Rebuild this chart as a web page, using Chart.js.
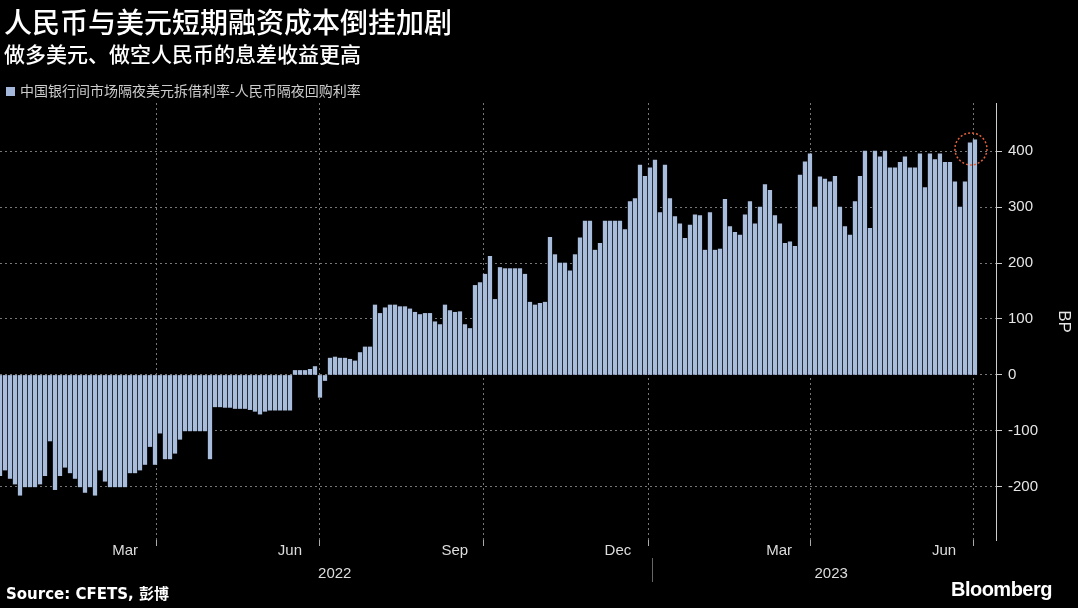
<!DOCTYPE html>
<html lang="zh-CN">
<head>
  <meta charset="UTF-8" />
  <script src="https://cdn.jsdelivr.net/npm/chart.js@4/dist/chart.umd.min.js"></script>
  <title>人民币与美元短期融资成本倒挂加剧</title>
  <style>
    body { margin: 0; background: #000; font-family: "Noto Sans CJK SC", "Noto Sans", sans-serif; }
    .wrap { position: relative; width: 1078px; height: 608px; overflow: hidden; }
    canvas { position: absolute; left: 0; top: 0; }
    .t { position: absolute; color: #fff; white-space: nowrap; }
    #title { left: 4px; top: 1px; font-size: 28px; font-weight: 500; }
    #sub { left: 4px; top: 38px; font-size: 21px; font-weight: 500; }
    #legend { left: 6px; top: 80px; font-size: 14px; color: #ccc; }
    #legend i { display: inline-block; width: 9px; height: 9px; background: #a3b8da; margin-right: 5px; }
    #src { left: 6px; top: 582px; font-size: 15px; font-weight: bold; font-family: "DejaVu Sans", "Noto Sans CJK SC"; }
    #bbg { right: 26px; top: 578px; font-size: 20px; font-weight: bold; font-family: "Liberation Sans", sans-serif; letter-spacing: -0.5px; }
  </style>
</head>
<body>
<div class="wrap">
  <canvas id="grafico" width="1078" height="608"></canvas>
  <div class="t" id="title">人民币与美元短期融资成本倒挂加剧</div>
  <div class="t" id="sub">做多美元、做空人民币的息差收益更高</div>
  <div class="t" id="legend"><i></i>中国银行间市场隔夜美元拆借利率-人民币隔夜回购利率</div>
  <div class="t" id="src">Source: CFETS, 彭博</div>
  <div class="t" id="bbg">Bloomberg</div>
</div>
<script>
  // spread in BP, one sample roughly every 2.8 days from early Jan 2022
  const startDay = 3.2;   // days from 2022-01-01
  const stepDays = 2.79;
  const spread = [
    -180, -170, -185, -195, -215, -200, -200, -200, -195, -180, -118, -205, -180, -165, -175, -185,
    -200, -210, -200, -215, -170, -190, -200, -200, -200, -200, -175, -175, -170, -160, -128, -160,
    -104, -150, -150, -140, -115, -100, -100, -100, -100, -100, -150, -57, -57, -58, -58, -60,
    -60, -60, -62, -65, -70, -65, -63, -63, -63, -63, -63,
    8, 8, 8, 10, 15, -40, -10, 30, 32, 30, 30, 28, 25, 40, 50, 50,
    125, 110, 120, 125, 125, 122, 122, 118, 112, 108, 110, 110, 95, 90, 125, 115,
    112, 113, 90, 83, 160, 165, 180, 212, 135, 192, 190, 190, 190, 190, 180, 130,
    125, 128, 130, 246, 215, 200, 200, 186, 215, 245, 275, 275, 223, 235, 275, 275,
    275, 275, 260, 310, 315, 375, 355, 370, 384, 290, 375, 315, 283, 270, 244, 268,
    286, 285, 223, 290, 223, 225, 314, 265, 255, 250, 286, 310, 270, 300, 340, 330,
    285, 270, 235, 238, 230, 357, 381, 395, 300, 354, 350, 345, 355, 300, 265, 250,
    310, 355, 400, 262, 400, 390, 400, 370, 370, 380, 390, 370, 370, 395, 335, 395,
    385, 395, 380, 380, 345, 300, 345, 415, 420
  ];
  const monthTicks = [73, 165, 257, 348, 438, 530];      // mid-month label positions
  const monthLabels = ["Mar", "Jun", "Sep", "Dec", "Mar", "Jun"];
  const quarterLines = [90, 181, 273, 365, 455, 546];     // quarter starts
  const yearLabels = [{ day: 190, text: "2022" }, { day: 467, text: "2023" }];
  const yearSplit = 367;
  const yTicks = [-200, -100, 0, 100, 200, 300, 400];

  const points = spread.map((v, i) => ({ x: startDay + i * stepDays, y: v }));

  const extras = {
    id: "extras",
    beforeDatasetsDraw(chart) {
      const { ctx, scales: { x }, chartArea } = chart;
      ctx.save();
      ctx.strokeStyle = "#777";
      ctx.setLineDash([2, 3]);
      quarterLines.forEach(d => {
        const px = Math.round(x.getPixelForValue(d)) + 0.5;
        ctx.beginPath();
        ctx.moveTo(px, chartArea.top);
        ctx.lineTo(px, chartArea.bottom);
        ctx.stroke();
      });
      ctx.setLineDash([]);
      ctx.strokeStyle = "#aaa";
      quarterLines.forEach(d => {
        const px = Math.round(x.getPixelForValue(d)) + 0.5;
        ctx.beginPath();
        ctx.moveTo(px, chartArea.bottom);
        ctx.lineTo(px, chartArea.bottom + 6);
        ctx.stroke();
      });
      ctx.restore();
    },
    afterDraw(chart) {
      const { ctx, scales: { x, y }, chartArea } = chart;
      ctx.save();
      ctx.fillStyle = "#ddd";
      ctx.font = "15px 'Liberation Sans', sans-serif";
      ctx.textAlign = "center";
      yearLabels.forEach(l => ctx.fillText(l.text, x.getPixelForValue(l.day), chartArea.bottom + 38));
      ctx.strokeStyle = "#666";
      ctx.beginPath();
      const sx = Math.round(x.getPixelForValue(yearSplit)) + 0.5;
      ctx.moveTo(sx, chartArea.bottom + 18);
      ctx.lineTo(sx, chartArea.bottom + 42);
      ctx.stroke();
      // circle around latest value
      const last = points[points.length - 1];
      ctx.strokeStyle = "#e0603a";
      ctx.setLineDash([2, 2]);
      ctx.lineWidth = 1.5;
      ctx.beginPath();
      ctx.arc(x.getPixelForValue(last.x) - 4, y.getPixelForValue(last.y) + 9, 16, 0, Math.PI * 2);
      ctx.stroke();
      ctx.restore();
    }
  };

  new Chart(document.getElementById("grafico"), {
    type: "bar",
    data: {
      datasets: [{
        data: points,
        backgroundColor: "#a8bcdc",
        barThickness: 3.6
      }]
    },
    plugins: [extras],
    options: {
      responsive: false,
      animation: false,
      layout: { padding: { top: 103 } },
      plugins: { legend: { display: false }, tooltip: { enabled: false } },
      scales: {
        x: {
          type: "linear",
          min: startDay,
          max: 559,
          offset: false,
          afterBuildTicks: s => { s.ticks = monthTicks.map(v => ({ value: v })); },
          afterFit: s => { s.height = 68; },
          ticks: {
            color: "#ddd",
            font: { size: 15, family: "Liberation Sans" },
            padding: -6,
            callback: (v, i) => monthLabels[i]
          },
          grid: { display: false },
          border: { display: false }
        },
        y: {
          position: "right",
          min: -295,
          max: 486,
          afterBuildTicks: s => { s.ticks = yTicks.map(v => ({ value: v })); },
          afterFit: s => { s.width = 82; },
          ticks: { color: "#e6e6e6", font: { size: 15, family: "Liberation Sans" }, padding: 6 },
          grid: { color: "#777", tickColor: "#ccc", tickLength: 6, tickBorderDash: [], },
          border: { display: true, color: "#ccc", dash: [2, 3] },
          title: { display: true, text: "BP", color: "#e6e6e6", font: { size: 17, family: "Liberation Sans" } }
        }
      }
    }
  });
</script>
</body>
</html>
